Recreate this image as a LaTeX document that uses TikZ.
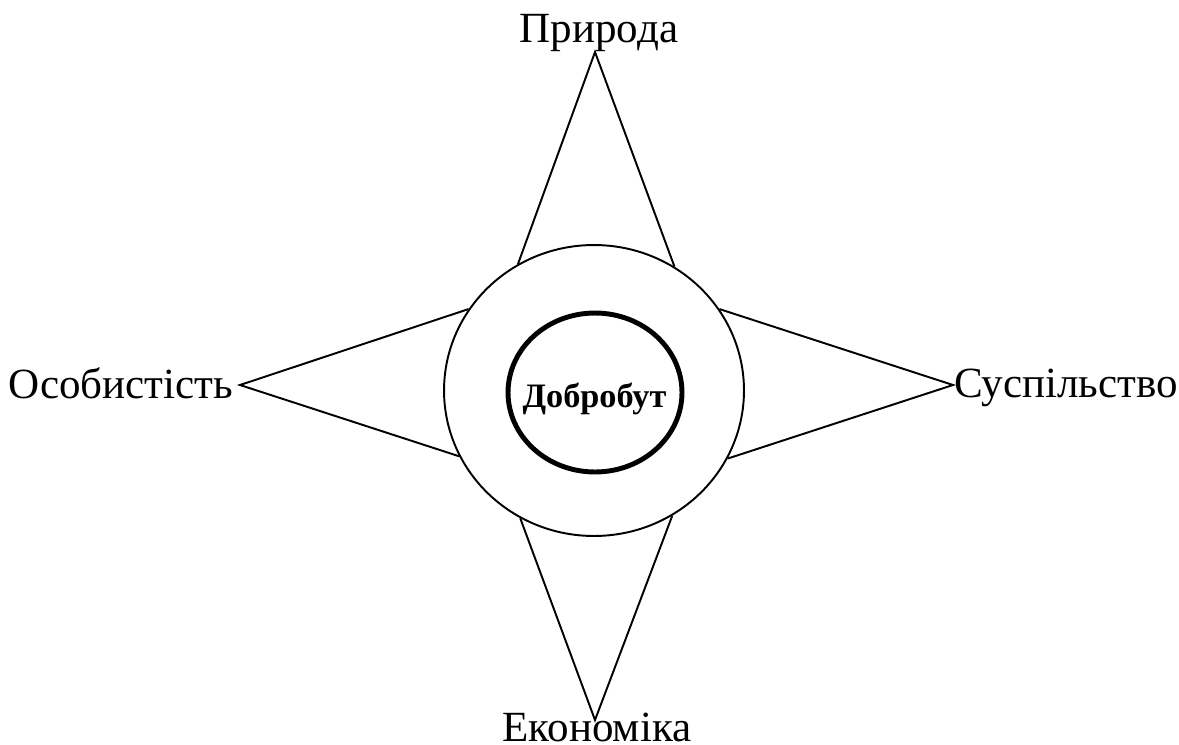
\documentclass[tikz,border=0pt]{standalone}
\usepackage{fontspec}
\setmainfont{Liberation Serif}
\usetikzlibrary{shapes.geometric}
\tikzset{
  x=0.02cm, y=-0.02cm,
  ring/.style  ={draw, ellipse, inner sep=0pt, line width=1.1pt},
  core/.style  ={draw, ellipse, inner sep=0pt, line width=2.8pt},
  title/.style ={anchor=base, font=\fontsize{19.5}{22}\selectfont\bfseries},
  pole/.style  ={anchor=base, font=\fontsize{24.5}{28}\selectfont},
  ray/.style   ={line width=1.1pt, line join=miter},
}
\begin{document}
\begin{tikzpicture}
  \useasboundingbox (0,0) rectangle (1179,744);
  % centre: welfare inside the outer ring
  \node[ring, minimum width=6cm, minimum height=5.82cm] (outer) at (594,390.5) {};
  \node[core, minimum width=3.48cm, minimum height=3.18cm] (core) at (595,392.5) {};
  \node[title] (welfare) at (594.5,407) {Добробут};

  % the four poles and their tips
  \node[pole] (nature)  at (599,42)   {Природа};
  \node[pole] (econ)    at (597,741)  {Економіка};
  \node[pole] (person)  at (121,398)  {Особистість};
  \node[pole] (society) at (1066,397) {Суспільство};
  \coordinate (tipN) at (595,52);
  \coordinate (tipS) at (595,720);
  \coordinate (tipW) at (240,385);
  \coordinate (tipE) at (953,385);

  % star rays from the ring out to each tip
  \draw[ray] (outer.121) -- (tipN) -- (outer.57);
  \draw[ray] (outer.147) -- (tipW) -- (outer.206);
  \draw[ray] (outer.33)  -- (tipE) -- (outer.-27);
  \draw[ray] (outer.240) -- (tipS) -- (outer.302);
\end{tikzpicture}
\end{document}
